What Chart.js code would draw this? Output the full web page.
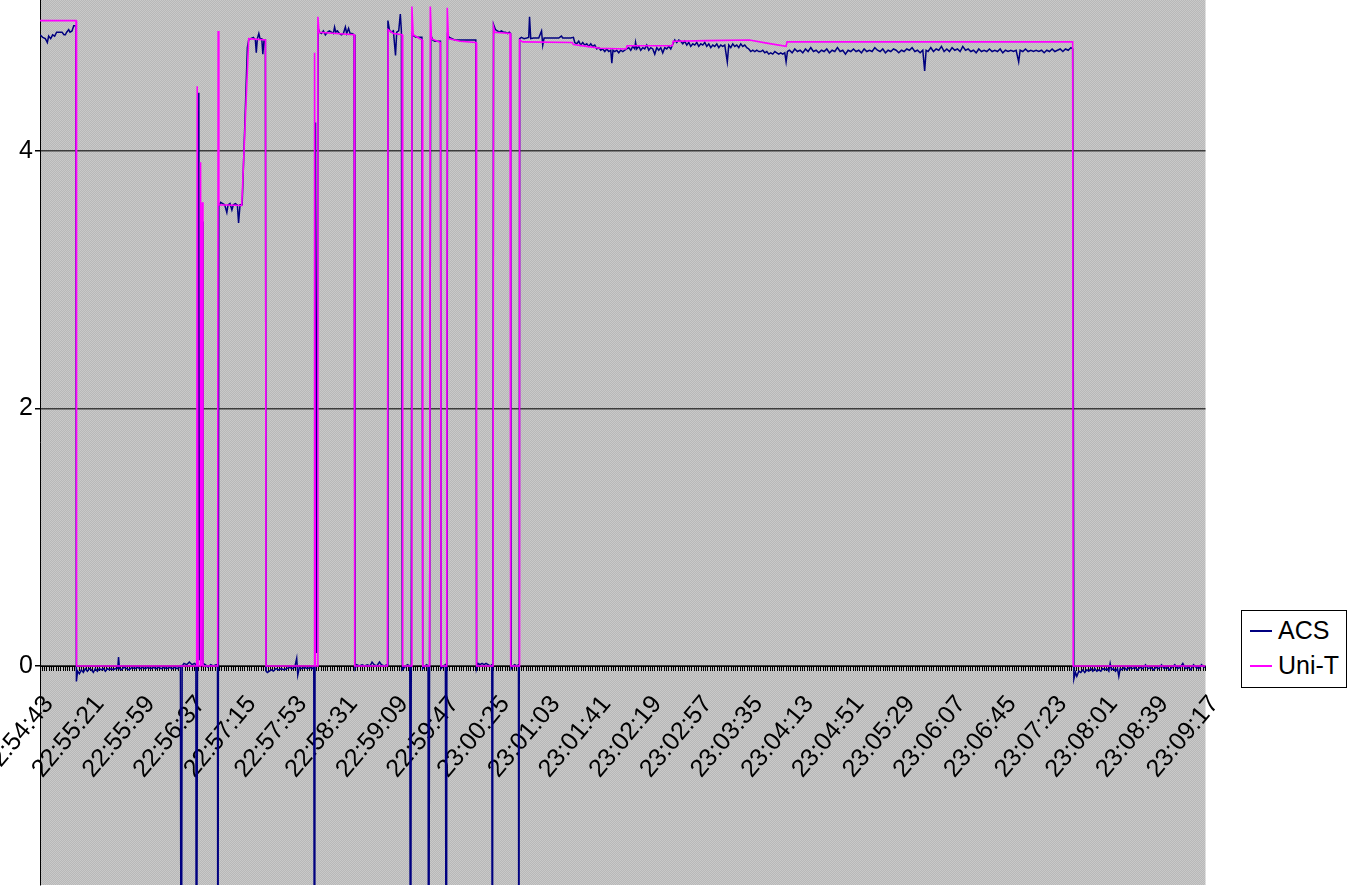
<!DOCTYPE html>
<html>
<head>
<meta charset="utf-8">
<title>ACS / Uni-T</title>
<script src="https://cdn.jsdelivr.net/npm/chart.js@4.4.1/dist/chart.umd.min.js"></script>
<style>
  html, body { margin: 0; padding: 0; background: #fff; }
  #wrap { position: relative; width: 1354px; height: 890px; overflow: hidden; }
  #legend {
    position: absolute; left: 1241px; top: 610px; width: 104px; height: 74px;
    border: 1px solid #000; background: #fff; padding-top: 2px; box-sizing: content-box;
    font: 25px "Liberation Sans", Arial, sans-serif; color: #000;
  }
  #legend .item { display: flex; align-items: center; height: 35px; }
  #legend .swatch { width: 22px; height: 0; border-top: 2px solid; margin: 0 6px 0 8px; }
</style>
</head>
<body>
<div id="wrap">
  <canvas id="chart" width="1354" height="890"></canvas>
  <div id="legend"></div>
</div>
<script>
// x = seconds after 22:54:43, y = reading
const timeLabels = ['22:54:43', '22:55:21', '22:55:59', '22:56:37', '22:57:15', '22:57:53',
  '22:58:31', '22:59:09', '22:59:47', '23:00:25', '23:01:03', '23:01:41', '23:02:19',
  '23:02:57', '23:03:35', '23:04:13', '23:04:51', '23:05:29', '23:06:07', '23:06:45',
  '23:07:23', '23:08:01', '23:08:39', '23:09:17'];
const secondsPerLabel = 38;
const samplesPerLabel = 22;
const yTicks = [0, 2, 4];

const acsReadings = [
  [0,4.90],[2,4.88],[4,4.87],[5.5,4.84],[6.5,4.89],[8,4.87],[9.5,4.90],[11,4.89],[12.5,4.92],
  [14.5,4.92],[16.5,4.92],[18,4.90],[19,4.90],[20,4.92],[21.5,4.94],[22.5,4.92],[24,4.93],
  [25.3,4.97],[26.8,4.97],
  [27.3,-0.12],[28.2,-0.04],[29.5,-0.06],[31,-0.03],[32.5,-0.05],[34,-0.02],[35.5,-0.04],
  [37,-0.02],[38.5,-0.03],[40,-0.05],[41.5,-0.02],[43,-0.04],[44.5,-0.02],[46,-0.03],
  [47.5,-0.02],[49,-0.04],[50.5,-0.02],[52,-0.03],[53.5,-0.02],[55,-0.03],[56.5,-0.02],
  [58.3,-0.02],[58.9,0.07],[59.6,-0.02],[61,-0.03],[63,-0.01],[65,-0.02],[67,-0.03],[69,-0.01],
  [71,-0.02],[73,-0.01],[75,-0.02],[77,-0.01],[79,-0.02],[81,-0.01],[83,-0.02],[85,-0.01],
  [87,-0.02],[89,-0.01],[91,-0.02],[93,-0.01],[95,-0.02],[97,-0.01],[99,-0.02],[101,-0.01],
  [103,-0.02],[105.3,0.0],[105.9,-4],[106.6,0.0],[108,0.02],[110,0.01],[112,0.03],[114,0.01],
  [116,0.02],[116.9,0.01],[117.2,-4],[119.1,4.45],[119.6,0.05],[121,0.05],[121.7,3.45],
  [122.2,0.02],[124,0.01],[126,-0.01],[128,0.01],[130,0.0],[132,0.01],[133.1,0.01],[133.4,-4],
  [134.1,3.57],[135.5,3.60],[137,3.59],[138.5,3.58],[140.1,3.52],[141,3.58],[142.5,3.59],
  [143.9,3.54],[145,3.58],[146.5,3.59],[148,3.58],[148.9,3.44],[150,3.58],[151.6,3.58],
  [155.5,4.80],[156.5,4.86],[158,4.87],[160,4.88],[161.5,4.86],[162.2,4.76],[163,4.87],
  [164.1,4.91],[165,4.87],[166.3,4.87],[167.1,4.75],[168,4.86],[169,4.86],
  [169.6,-0.04],[170.5,-0.05],[172,-0.04],[173.5,-0.03],[175,-0.04],[177,-0.02],[179,-0.03],
  [181,-0.02],[183,-0.03],[185,-0.02],[187,-0.01],[189,-0.02],[191,-0.01],[192.5,0.06],
  [193.3,-0.07],[194.5,-0.01],[196.5,-0.02],[198.5,-0.01],[200.5,-0.02],[202.5,-0.01],
  [204,-0.02],[205.3,-0.01],[205.9,-4],[206.6,4.22],[207.4,0.1],[208.6,4.95],[209.6,4.92],
  [211,4.91],[212.5,4.93],[214,4.90],[215.5,4.92],[217,4.93],[218.5,4.92],[220,4.91],
  [220.9,4.96],[221.8,4.92],[223,4.93],[224.5,4.91],[226,4.90],[227.5,4.91],[229,4.96],
  [230,4.91],[231.4,4.95],[232.5,4.91],[234,4.91],[235.5,4.90],
  [236.2,-0.02],[237.5,0.01],[239.5,0.0],[241.5,0.01],[243.5,0.0],[245.5,0.01],[247.5,0.0],
  [249,0.03],[250.5,0.01],[252.5,0.0],[254.6,0.03],[256,0.01],[258,0.0],[260.3,0.01],
  [260.9,5.01],[262,4.94],[263.5,4.92],[265,4.93],[266.6,4.74],[267.5,4.92],[269,4.93],
  [270.2,5.06],[271,4.93],[271.7,-0.03],[273.5,-0.01],[275.5,0.01],[277.3,0.0],[277.9,-4],
  [279,4.91],[280.5,4.89],[282,4.88],[283.5,4.88],[285,4.88],[286.4,4.88],[287,-0.02],
  [288.5,0.0],[290,0.01],[291,0.0],[291.4,-4],[293,4.90],[294.5,4.86],[296,4.85],[297.5,4.85],
  [299,4.85],[300.3,4.85],[300.8,-0.02],[302.5,0.0],[304,0.01],[304.7,-4],[305.6,4.90],
  [307,4.88],[309,4.87],[311,4.86],[314,4.86],[317,4.86],[320,4.86],[323,4.86],[326.8,4.86],
  [327.4,-0.02],[328.5,0.02],[330,0.01],[331.5,0.02],[333,0.01],[334.5,0.02],[336,0.01],
  [337.5,0.0],[338.8,0.01],[339.2,-4],[340.1,4.98],[341.5,4.94],[343,4.93],[344.5,4.92],
  [346,4.93],[347.5,4.92],[349,4.92],[350.5,4.91],[352,4.92],[352.9,4.91],[353.4,-0.02],
  [354.5,0.0],[356,0.01],[357.5,0.0],[358.8,0.01],[359.1,-4],
  [359.7,4.87],[361,4.88],[363,4.87],[365,4.875],[366.5,4.88],[367.1,5.04],[368,4.87],
  [370,4.875],[372,4.875],[374,4.875],[376.1,4.93],[377,4.82],[378,4.875],[380,4.875],
  [383,4.875],[386,4.875],[389,4.875],[391,4.89],[392,4.875],[395,4.875],[398,4.875],
  [400,4.88],[401,4.84],[402.5,4.83],[404,4.85],[405.5,4.82],[407,4.84],[408.5,4.82],
  [410,4.83],[411.5,4.81],[413,4.83],[414.5,4.81],[416,4.82],[417.5,4.79],[419,4.80],
  [420.5,4.78],[422,4.79],[423.5,4.77],[425,4.79],[426.5,4.77],[428,4.78],[428.8,4.68],
  [429.7,4.78],[431,4.77],[432.5,4.78],[434,4.76],[435.5,4.78],[437,4.77],[438.5,4.78],
  [440,4.79],[441.5,4.80],[443,4.78],[444.5,4.81],[446,4.79],[446.6,4.84],[447.5,4.79],
  [449,4.81],[450.5,4.78],[452,4.80],[453.5,4.79],[455,4.82],[456.5,4.78],[458,4.80],
  [459.5,4.79],[461,4.75],[462.5,4.80],[464,4.78],[465.5,4.80],[467,4.76],[468.5,4.80],
  [470,4.79],[471.5,4.81],[473,4.79],[474.6,4.83],[476,4.86],[477.5,4.84],[479,4.86],
  [480.5,4.85],[482,4.83],[483.5,4.85],[485,4.82],[486.5,4.84],[488,4.81],[489.5,4.83],
  [491,4.82],[492.5,4.84],[494,4.81],[495.5,4.83],[497,4.82],[498.5,4.84],[500,4.81],
  [501.5,4.83],[503,4.80],[504.5,4.82],[506,4.81],[507.5,4.83],[509,4.80],[510.5,4.82],
  [512,4.81],[513.5,4.82],[515.4,4.69],[516.5,4.82],[518,4.80],[519.5,4.83],[521,4.81],
  [522.5,4.82],[524,4.80],[525.5,4.83],[527,4.81],[528.5,4.82],[530,4.80],[531.5,4.79],
  [533,4.77],[534.5,4.78],[536,4.77],[537.5,4.78],[539,4.77],[540.5,4.77],[542,4.78],
  [543.5,4.76],[545,4.77],[546.5,4.75],[548,4.76],[549.5,4.75],[551,4.77],[552.5,4.76],
  [554,4.75],[555.5,4.76],[557,4.75],[558.5,4.76],[559.5,4.69],[560.5,4.77],
  [562,4.78],[564,4.76],[566,4.79],[568,4.77],[570,4.78],[572,4.76],[574,4.79],[576,4.77],
  [578,4.80],[580,4.77],[582,4.78],[584,4.76],[586,4.78],[588,4.77],[590,4.79],[592,4.76],
  [594,4.78],[596,4.77],[598,4.80],[600,4.77],[602,4.78],[604,4.75],[606,4.78],[608,4.77],
  [610,4.79],[612,4.77],[614,4.78],[616,4.76],[618,4.79],[620,4.77],[622,4.78],[624,4.77],
  [626,4.80],[628,4.78],[630,4.77],[632,4.79],[634,4.76],[636,4.78],[638,4.77],[640,4.79],
  [642,4.78],[644,4.76],[646,4.78],[648,4.77],[650,4.79],[652,4.78],[654,4.80],[656,4.77],
  [658,4.78],[660,4.76],[662,4.78],[663.4,4.62],[664.5,4.78],[666,4.77],[668,4.80],[670,4.77],
  [672,4.79],[674,4.78],[676,4.81],[678,4.77],[680,4.79],[682,4.77],[684,4.80],[686,4.78],
  [688,4.79],[690,4.77],[692,4.81],[694,4.78],[696,4.79],[698,4.77],[700,4.78],[702,4.76],
  [704,4.79],[706,4.77],[708,4.78],[710,4.77],[712,4.79],[714,4.77],[716,4.78],[718,4.77],
  [720,4.79],[722,4.76],[724,4.78],[726,4.77],[728,4.78],[730,4.77],[732,4.78],[733.9,4.69],
  [735,4.78],[737,4.77],[739,4.79],[741,4.77],[743,4.78],[745,4.77],[747,4.78],[749,4.77],
  [751,4.78],[753,4.76],[755,4.78],[757,4.77],[759,4.79],[761,4.77],[763,4.78],[765,4.79],
  [767,4.77],[769,4.79],[771,4.78],[773,4.80],[774.4,4.79],
  [775.3,-0.10],[776.5,-0.05],[777.5,-0.08],[779,-0.04],[780.5,-0.05],[782,-0.03],
  [783.5,-0.05],[785,-0.03],[786.5,-0.04],[788,-0.02],[789.5,-0.04],[791,-0.02],[792.5,-0.04],
  [794,-0.03],[795.5,-0.04],[797,-0.02],[798.5,-0.03],[800,-0.02],[801.5,-0.04],[802.5,0.02],
  [803.5,-0.03],[805,-0.02],[806.5,-0.04],[808,-0.02],[809,-0.08],[810,-0.02],[811.5,-0.03],
  [813,-0.01],[815,-0.03],[817,-0.01],[819,-0.02],[821,-0.01],[823,-0.03],[825,-0.01],
  [827,-0.02],[829,0.01],[831,-0.02],[833,-0.01],[835,-0.03],[837,-0.01],[839,-0.02],
  [841,0.01],[843,-0.02],[845,-0.01],[847,-0.03],[849,-0.01],[851,0.01],[853,-0.02],
  [855,-0.01],[857,0.02],[859,-0.02],[861,-0.01],[863,-0.03],[865,0.01],[867,-0.01],
  [869,-0.02],[871,0.01],[873,-0.01],[874,0.0]
];

const unitReadings = [
  [0,5.01],[27,5.01],[27.4,0],[117.5,0],[117.9,4.50],[118.5,0],[120.1,0],[120.4,3.91],
  [120.8,0],[121.4,0],[121.7,3.60],[122.2,0],[133.2,0],[133.6,4.93],[134.1,3.58],
  [151.3,3.575],[156.5,4.87],[169.1,4.86],[169.5,0],[205.5,0],[205.9,4.76],[206.5,0],
  [208,0],[208.4,5.04],[209.2,4.92],[222,4.91],[235.6,4.90],[236,0],[260.5,0],[261,4.94],
  [265,4.91],[271.5,4.90],[272,0],[278.4,0],[278.9,5.12],[279.8,4.90],[286.5,4.86],[287,0],
  [292.2,0],[292.7,5.12],[293.5,4.87],[300.3,4.84],[300.8,0],[305,0],[305.4,5.11],
  [306.2,4.87],[315,4.85],[327,4.84],[327.4,0],[339.7,0],[340.1,4.96],[341,4.92],
  [352.5,4.91],[353,0],[359.2,0],[359.6,4.86],[362,4.845],[399,4.84],[400,4.825],[410,4.81],
  [420,4.795],[439.5,4.79],[440.3,4.815],[474.2,4.815],[474.8,4.85],[500,4.855],[532,4.86],
  [545,4.835],[559.5,4.81],[560.2,4.845],[774.4,4.845],[774.8,0],[874,0]
];

const toPoints = rows => rows.map(([x, y]) => ({ x, y }));

// grey dotted plot area, like the spreadsheet original
const plotBackground = {
  id: 'plotBackground',
  beforeDraw(chart) {
    const { ctx, chartArea } = chart;
    const tile = document.createElement('canvas');
    tile.width = 2; tile.height = 2;
    const t = tile.getContext('2d');
    t.fillStyle = '#b8b8b8'; t.fillRect(0, 0, 2, 2);
    t.fillStyle = '#c9c9c9'; t.fillRect(0, 0, 1, 1); t.fillRect(1, 1, 1, 1);
    ctx.save();
    ctx.fillStyle = ctx.createPattern(tile, 'repeat');
    ctx.fillRect(chartArea.left, chartArea.top, chartArea.right - chartArea.left, chartArea.bottom - chartArea.top);
    ctx.restore();
  }
};

Chart.defaults.font.family = '"Liberation Sans", Arial, sans-serif';
Chart.defaults.color = '#000';

const chart = new Chart(document.getElementById('chart'), {
  type: 'line',
  data: {
    datasets: [
      { label: 'ACS', data: toPoints(acsReadings), borderColor: '#000080', borderWidth: 1.5, order: 1 },
      { label: 'Uni-T', data: toPoints(unitReadings), borderColor: '#ff00ff', borderWidth: 1.6, order: 0 }
    ]
  },
  options: {
    responsive: false,
    animation: false,
    devicePixelRatio: 1,
    events: [],
    elements: { point: { radius: 0 }, line: { tension: 0 } },
    layout: { autoPadding: false, padding: { left: 0, top: 0, right: 148.5, bottom: 5 } },
    plugins: { legend: { display: false }, tooltip: { enabled: false } },
    scales: {
      x: {
        type: 'linear',
        position: { y: 0 },
        min: 0,
        max: secondsPerLabel * (timeLabels.length - 1),
        afterFit(scale) { scale.paddingLeft = 0; scale.paddingRight = 0; },
        ticks: {
          stepSize: secondsPerLabel / samplesPerLabel,
          autoSkip: false,
          minRotation: 50,
          maxRotation: 50,
          padding: 20,
          labelOffset: 9,
          font: { size: 25 },
          callback: (value, index) => index % samplesPerLabel === 0 ? timeLabels[index / samplesPerLabel] : ''
        },
        grid: { drawOnChartArea: false, tickLength: 4, tickColor: '#000' },
        border: { color: '#000', width: 1 }
      },
      y: {
        min: -1.7,
        max: 5.17,
        afterBuildTicks(scale) { scale.ticks = yTicks.map(value => ({ value })); },
        afterFit(scale) { scale.width = 40; scale.paddingTop = 0; scale.paddingBottom = 0; },
        ticks: { padding: 2, font: { size: 25 } },
        grid: { color: '#3c3c3c', lineWidth: 1.5, tickLength: 5, tickColor: '#000' },
        border: { color: '#000', width: 1 }
      }
    }
  },
  plugins: [plotBackground]
});

// legend box built from the datasets
const legend = document.getElementById('legend');
chart.data.datasets.forEach(ds => {
  const item = document.createElement('div');
  item.className = 'item';
  const swatch = document.createElement('span');
  swatch.className = 'swatch';
  swatch.style.borderTopColor = ds.borderColor;
  const text = document.createElement('span');
  text.textContent = ds.label;
  item.appendChild(swatch);
  item.appendChild(text);
  legend.appendChild(item);
});
</script>
</body>
</html>
